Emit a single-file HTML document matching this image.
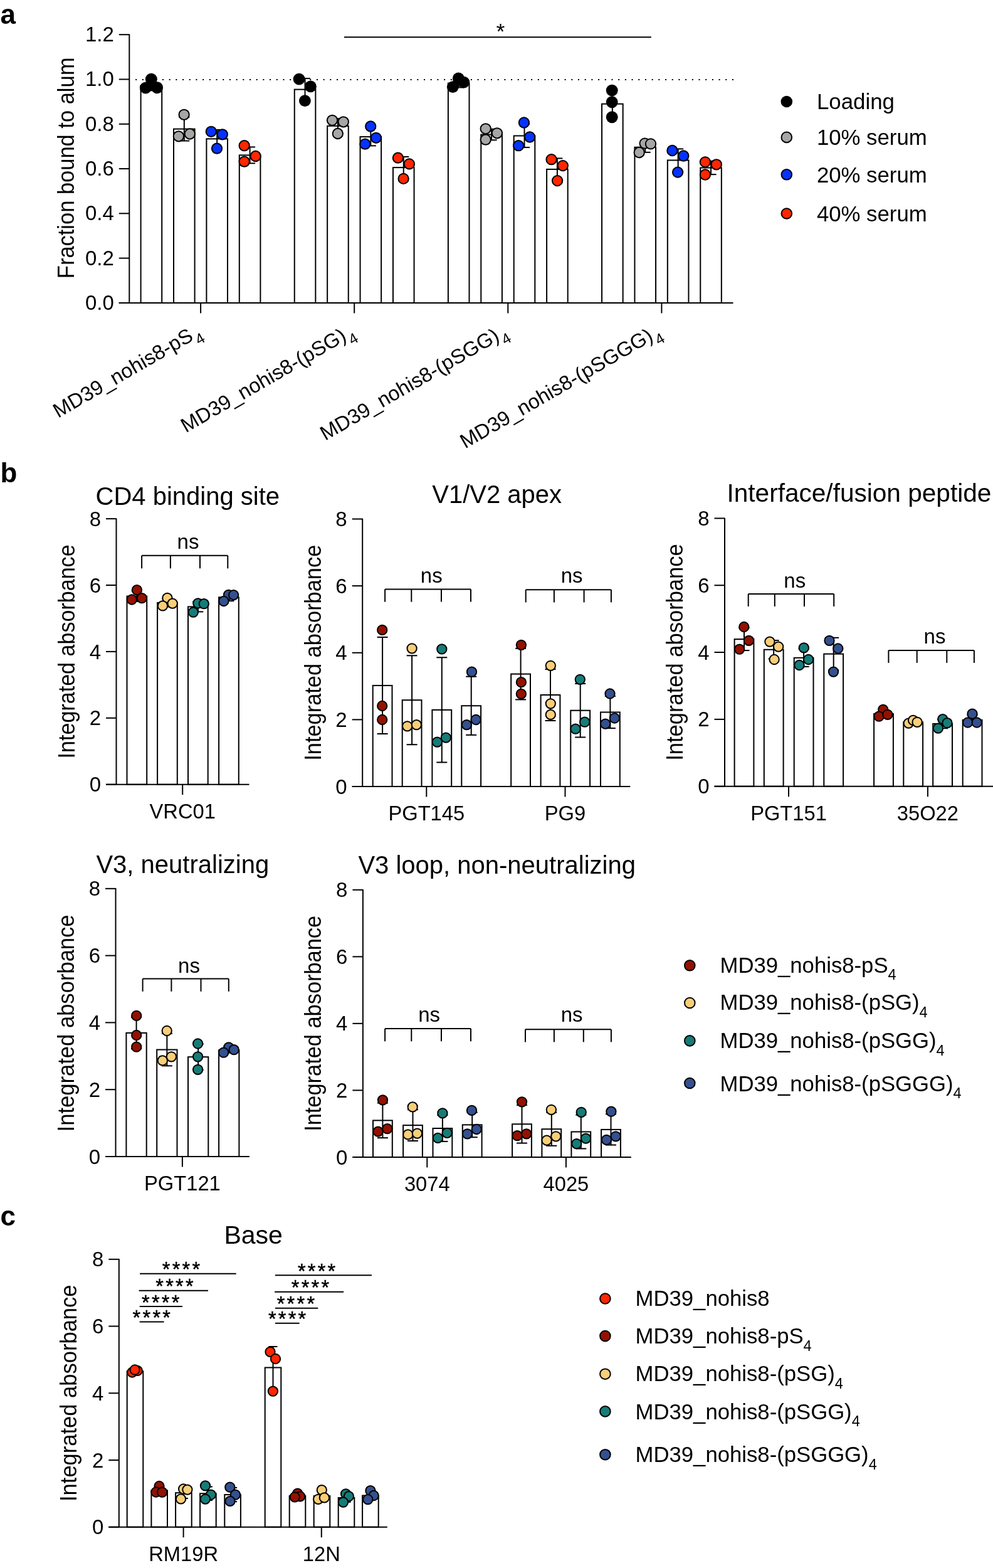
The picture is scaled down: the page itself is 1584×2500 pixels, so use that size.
<!DOCTYPE html>
<html><head><meta charset="utf-8"><title>Figure</title>
<style>
html,body{margin:0;padding:0;background:#fff;overflow:hidden;}
svg{display:block;}
text{font-family:"Liberation Sans", Arial, Helvetica, sans-serif;fill:#000;}
line,rect{stroke:#000;}
</style></head><body>
<svg width="1584" height="2500" viewBox="0 0 1584 2500">

<text x="0.5" y="38" font-size="44" font-weight="bold" >a</text>
<line x1="216.2" y1="126.9" x2="1170.3" y2="126.9" stroke-width="2" stroke-dasharray="2 8.694"/>
<line x1="549" y1="59.2" x2="1038.8" y2="59.2" stroke-width="2.0" />
<text x="791.5" y="62.2" font-size="35.5" >*</text>
<rect x="224.6" y="136.47" width="33.6" height="346.43" fill="#fff" stroke-width="2.0"/>
<line x1="241.4" y1="128.61" x2="241.4" y2="144.32" stroke-width="2.0" />
<line x1="232.9" y1="128.61" x2="249.9" y2="128.61" stroke-width="2.0" />
<line x1="232.9" y1="144.32" x2="249.9" y2="144.32" stroke-width="2.0" />
<rect x="277" y="205.63" width="33.6" height="277.27" fill="#fff" stroke-width="2.0"/>
<line x1="293.8" y1="186.72" x2="293.8" y2="224.55" stroke-width="2.0" />
<line x1="285.3" y1="186.72" x2="302.3" y2="186.72" stroke-width="2.0" />
<line x1="285.3" y1="224.55" x2="302.3" y2="224.55" stroke-width="2.0" />
<rect x="329.4" y="221.37" width="33.6" height="261.53" fill="#fff" stroke-width="2.0"/>
<line x1="346.2" y1="206.96" x2="346.2" y2="235.78" stroke-width="2.0" />
<line x1="337.7" y1="206.96" x2="354.7" y2="206.96" stroke-width="2.0" />
<line x1="337.7" y1="235.78" x2="354.7" y2="235.78" stroke-width="2.0" />
<rect x="381.8" y="247.4" width="33.6" height="235.5" fill="#fff" stroke-width="2.0"/>
<line x1="398.6" y1="234.44" x2="398.6" y2="260.36" stroke-width="2.0" />
<line x1="390.1" y1="234.44" x2="407.1" y2="234.44" stroke-width="2.0" />
<line x1="390.1" y1="260.36" x2="407.1" y2="260.36" stroke-width="2.0" />
<rect x="469.75" y="142.63" width="33.6" height="340.27" fill="#fff" stroke-width="2.0"/>
<line x1="486.55" y1="125.1" x2="486.55" y2="160.17" stroke-width="2.0" />
<line x1="478.05" y1="125.1" x2="495.05" y2="125.1" stroke-width="2.0" />
<line x1="478.05" y1="160.17" x2="495.05" y2="160.17" stroke-width="2.0" />
<rect x="522.15" y="200.8" width="33.6" height="282.1" fill="#fff" stroke-width="2.0"/>
<line x1="538.95" y1="189.21" x2="538.95" y2="212.39" stroke-width="2.0" />
<line x1="530.45" y1="189.21" x2="547.45" y2="189.21" stroke-width="2.0" />
<line x1="530.45" y1="212.39" x2="547.45" y2="212.39" stroke-width="2.0" />
<rect x="574.55" y="218.1" width="33.6" height="264.8" fill="#fff" stroke-width="2.0"/>
<line x1="591.35" y1="203.79" x2="591.35" y2="232.41" stroke-width="2.0" />
<line x1="582.85" y1="203.79" x2="599.85" y2="203.79" stroke-width="2.0" />
<line x1="582.85" y1="232.41" x2="599.85" y2="232.41" stroke-width="2.0" />
<rect x="626.95" y="267.1" width="33.6" height="215.8" fill="#fff" stroke-width="2.0"/>
<line x1="643.75" y1="250.03" x2="643.75" y2="284.17" stroke-width="2.0" />
<line x1="635.25" y1="250.03" x2="652.25" y2="250.03" stroke-width="2.0" />
<line x1="635.25" y1="284.17" x2="652.25" y2="284.17" stroke-width="2.0" />
<rect x="714.9" y="132.63" width="33.6" height="350.27" fill="#fff" stroke-width="2.0"/>
<line x1="731.7" y1="125.77" x2="731.7" y2="139.49" stroke-width="2.0" />
<line x1="723.2" y1="125.77" x2="740.2" y2="125.77" stroke-width="2.0" />
<line x1="723.2" y1="139.49" x2="740.2" y2="139.49" stroke-width="2.0" />
<rect x="767.3" y="214.53" width="33.6" height="268.37" fill="#fff" stroke-width="2.0"/>
<line x1="784.1" y1="205.78" x2="784.1" y2="223.29" stroke-width="2.0" />
<line x1="775.6" y1="205.78" x2="792.6" y2="205.78" stroke-width="2.0" />
<line x1="775.6" y1="223.29" x2="792.6" y2="223.29" stroke-width="2.0" />
<rect x="819.7" y="216.5" width="33.6" height="266.4" fill="#fff" stroke-width="2.0"/>
<line x1="836.5" y1="197.95" x2="836.5" y2="235.05" stroke-width="2.0" />
<line x1="828" y1="197.95" x2="845" y2="197.95" stroke-width="2.0" />
<line x1="828" y1="235.05" x2="845" y2="235.05" stroke-width="2.0" />
<rect x="872.1" y="269.9" width="33.6" height="213" fill="#fff" stroke-width="2.0"/>
<line x1="888.9" y1="252.47" x2="888.9" y2="287.33" stroke-width="2.0" />
<line x1="880.4" y1="252.47" x2="897.4" y2="252.47" stroke-width="2.0" />
<line x1="880.4" y1="287.33" x2="897.4" y2="287.33" stroke-width="2.0" />
<rect x="960.05" y="165.67" width="33.6" height="317.23" fill="#fff" stroke-width="2.0"/>
<line x1="976.85" y1="144.26" x2="976.85" y2="187.07" stroke-width="2.0" />
<line x1="968.35" y1="144.26" x2="985.35" y2="144.26" stroke-width="2.0" />
<line x1="968.35" y1="187.07" x2="985.35" y2="187.07" stroke-width="2.0" />
<rect x="1012.45" y="234.77" width="33.6" height="248.13" fill="#fff" stroke-width="2.0"/>
<line x1="1029.25" y1="226.67" x2="1029.25" y2="242.86" stroke-width="2.0" />
<line x1="1020.75" y1="226.67" x2="1037.75" y2="226.67" stroke-width="2.0" />
<line x1="1020.75" y1="242.86" x2="1037.75" y2="242.86" stroke-width="2.0" />
<rect x="1064.85" y="255.47" width="33.6" height="227.43" fill="#fff" stroke-width="2.0"/>
<line x1="1081.65" y1="237.44" x2="1081.65" y2="273.5" stroke-width="2.0" />
<line x1="1073.15" y1="237.44" x2="1090.15" y2="237.44" stroke-width="2.0" />
<line x1="1073.15" y1="273.5" x2="1090.15" y2="273.5" stroke-width="2.0" />
<rect x="1117.25" y="267.5" width="33.6" height="215.4" fill="#fff" stroke-width="2.0"/>
<line x1="1134.05" y1="256.84" x2="1134.05" y2="278.16" stroke-width="2.0" />
<line x1="1125.55" y1="256.84" x2="1142.55" y2="256.84" stroke-width="2.0" />
<line x1="1125.55" y1="278.16" x2="1142.55" y2="278.16" stroke-width="2.0" />
<circle cx="241.3" cy="126.3" r="9.45" fill="#000"/>
<circle cx="232.3" cy="140.1" r="9.45" fill="#000"/>
<circle cx="250.6" cy="139.7" r="9.45" fill="#000"/>
<circle cx="293.6" cy="182.8" r="8.15" fill="#A6A6A6" stroke="#000" stroke-width="2.0"/>
<circle cx="284.9" cy="217.3" r="8.15" fill="#A6A6A6" stroke="#000" stroke-width="2.0"/>
<circle cx="302.8" cy="213.5" r="8.15" fill="#A6A6A6" stroke="#000" stroke-width="2.0"/>
<circle cx="336.8" cy="209.8" r="8.15" fill="#0433FF" stroke="#000" stroke-width="2.0"/>
<circle cx="354.8" cy="214.3" r="8.15" fill="#0433FF" stroke="#000" stroke-width="2.0"/>
<circle cx="346" cy="236.7" r="8.15" fill="#0433FF" stroke="#000" stroke-width="2.0"/>
<circle cx="389.7" cy="232.2" r="8.15" fill="#FF2600" stroke="#000" stroke-width="2.0"/>
<circle cx="407.7" cy="249" r="8.15" fill="#FF2600" stroke="#000" stroke-width="2.0"/>
<circle cx="389.7" cy="257.7" r="8.15" fill="#FF2600" stroke="#000" stroke-width="2.0"/>
<circle cx="477.1" cy="126.1" r="9.45" fill="#000"/>
<circle cx="495.4" cy="137.9" r="9.45" fill="#000"/>
<circle cx="486.4" cy="160.6" r="9.45" fill="#000"/>
<circle cx="530" cy="191.8" r="8.15" fill="#A6A6A6" stroke="#000" stroke-width="2.0"/>
<circle cx="547.8" cy="194.3" r="8.15" fill="#A6A6A6" stroke="#000" stroke-width="2.0"/>
<circle cx="538.8" cy="213" r="8.15" fill="#A6A6A6" stroke="#000" stroke-width="2.0"/>
<circle cx="591.2" cy="201.5" r="8.15" fill="#0433FF" stroke="#000" stroke-width="2.0"/>
<circle cx="599.9" cy="219.8" r="8.15" fill="#0433FF" stroke="#000" stroke-width="2.0"/>
<circle cx="582.4" cy="229.7" r="8.15" fill="#0433FF" stroke="#000" stroke-width="2.0"/>
<circle cx="634.9" cy="251.7" r="8.15" fill="#FF2600" stroke="#000" stroke-width="2.0"/>
<circle cx="652.9" cy="261.4" r="8.15" fill="#FF2600" stroke="#000" stroke-width="2.0"/>
<circle cx="643.6" cy="284.9" r="8.15" fill="#FF2600" stroke="#000" stroke-width="2.0"/>
<circle cx="731.3" cy="124.9" r="9.45" fill="#000"/>
<circle cx="739.8" cy="131.1" r="9.45" fill="#000"/>
<circle cx="722.3" cy="138.6" r="9.45" fill="#000"/>
<circle cx="774.7" cy="205.3" r="8.15" fill="#A6A6A6" stroke="#000" stroke-width="2.0"/>
<circle cx="792.9" cy="212.3" r="8.15" fill="#A6A6A6" stroke="#000" stroke-width="2.0"/>
<circle cx="774.7" cy="222.7" r="8.15" fill="#A6A6A6" stroke="#000" stroke-width="2.0"/>
<circle cx="835.9" cy="195.5" r="8.15" fill="#0433FF" stroke="#000" stroke-width="2.0"/>
<circle cx="845.1" cy="218.5" r="8.15" fill="#0433FF" stroke="#000" stroke-width="2.0"/>
<circle cx="827.1" cy="232.2" r="8.15" fill="#0433FF" stroke="#000" stroke-width="2.0"/>
<circle cx="879.6" cy="254.2" r="8.15" fill="#FF2600" stroke="#000" stroke-width="2.0"/>
<circle cx="897.8" cy="264.1" r="8.15" fill="#FF2600" stroke="#000" stroke-width="2.0"/>
<circle cx="889.1" cy="288.1" r="8.15" fill="#FF2600" stroke="#000" stroke-width="2.0"/>
<circle cx="976.2" cy="144.1" r="9.45" fill="#000"/>
<circle cx="976.2" cy="162.8" r="9.45" fill="#000"/>
<circle cx="976.2" cy="186.8" r="9.45" fill="#000"/>
<circle cx="1028.6" cy="228.6" r="8.15" fill="#A6A6A6" stroke="#000" stroke-width="2.0"/>
<circle cx="1038" cy="229.4" r="8.15" fill="#A6A6A6" stroke="#000" stroke-width="2.0"/>
<circle cx="1019.7" cy="243" r="8.15" fill="#A6A6A6" stroke="#000" stroke-width="2.0"/>
<circle cx="1072.4" cy="240" r="8.15" fill="#0433FF" stroke="#000" stroke-width="2.0"/>
<circle cx="1090.3" cy="248.5" r="8.15" fill="#0433FF" stroke="#000" stroke-width="2.0"/>
<circle cx="1081.1" cy="274.6" r="8.15" fill="#0433FF" stroke="#000" stroke-width="2.0"/>
<circle cx="1124.9" cy="258.4" r="8.15" fill="#FF2600" stroke="#000" stroke-width="2.0"/>
<circle cx="1142.8" cy="262.3" r="8.15" fill="#FF2600" stroke="#000" stroke-width="2.0"/>
<circle cx="1124.9" cy="278.5" r="8.15" fill="#FF2600" stroke="#000" stroke-width="2.0"/>
<line x1="206.3" y1="54.5" x2="206.3" y2="482.9" stroke-width="2.0" />
<line x1="189.8" y1="482.9" x2="206.3" y2="482.9" stroke-width="2.0" />
<text x="181.9" y="493.9" font-size="33" text-anchor="end" >0.0</text>
<line x1="189.8" y1="411.62" x2="206.3" y2="411.62" stroke-width="2.0" />
<text x="181.9" y="422.62" font-size="33" text-anchor="end" >0.2</text>
<line x1="189.8" y1="340.33" x2="206.3" y2="340.33" stroke-width="2.0" />
<text x="181.9" y="351.33" font-size="33" text-anchor="end" >0.4</text>
<line x1="189.8" y1="269.05" x2="206.3" y2="269.05" stroke-width="2.0" />
<text x="181.9" y="280.05" font-size="33" text-anchor="end" >0.6</text>
<line x1="189.8" y1="197.77" x2="206.3" y2="197.77" stroke-width="2.0" />
<text x="181.9" y="208.77" font-size="33" text-anchor="end" >0.8</text>
<line x1="189.8" y1="126.48" x2="206.3" y2="126.48" stroke-width="2.0" />
<text x="181.9" y="137.48" font-size="33" text-anchor="end" >1.0</text>
<line x1="189.8" y1="55.2" x2="206.3" y2="55.2" stroke-width="2.0" />
<text x="181.9" y="66.2" font-size="33" text-anchor="end" >1.2</text>
<line x1="189.6" y1="482.9" x2="1169.5" y2="482.9" stroke-width="2.0" />
<line x1="320.1" y1="482.9" x2="320.1" y2="499.4" stroke-width="2.0" />
<line x1="565.2" y1="482.9" x2="565.2" y2="499.4" stroke-width="2.0" />
<line x1="810.3" y1="482.9" x2="810.3" y2="499.4" stroke-width="2.0" />
<line x1="1055.4" y1="482.9" x2="1055.4" y2="499.4" stroke-width="2.0" />
<text x="117.9" y="267.9" font-size="36.5" text-anchor="middle" textLength="352.5" lengthAdjust="spacingAndGlyphs" transform="rotate(-90 117.9 267.9)" >Fraction bound to alum</text>
<text x="92.7" y="666.9" font-size="32.5" transform="rotate(-30 92.7 666.9)">MD39_nohis8-pS<tspan font-size="24" dx="1.5" dy="11.5">4</tspan></text>
<text x="296.5" y="690.4" font-size="32.5" transform="rotate(-30 296.5 690.4)">MD39_nohis8-(pSG)<tspan font-size="24" dx="1.5" dy="11.5">4</tspan></text>
<text x="518.7" y="703" font-size="32.5" transform="rotate(-30 518.7 703)">MD39_nohis8-(pSGG)<tspan font-size="24" dx="1.5" dy="11.5">4</tspan></text>
<text x="741.9" y="715.8" font-size="32.5" transform="rotate(-30 741.9 715.8)">MD39_nohis8-(pSGGG)<tspan font-size="24" dx="1.5" dy="11.5">4</tspan></text>
<circle cx="1254.8" cy="162" r="9.3" fill="#000"/>
<text x="1302.9" y="173.7" font-size="35.5" textLength="124" lengthAdjust="spacingAndGlyphs" >Loading</text>
<circle cx="1254.8" cy="218.9" r="8.3" fill="#A6A6A6" stroke="#000" stroke-width="2.0"/>
<text x="1302.9" y="230.6" font-size="35.5" textLength="175.8" lengthAdjust="spacingAndGlyphs" >10% serum</text>
<circle cx="1254.8" cy="278.3" r="8.3" fill="#0433FF" stroke="#000" stroke-width="2.0"/>
<text x="1302.9" y="290.5" font-size="35.5" textLength="175.8" lengthAdjust="spacingAndGlyphs" >20% serum</text>
<circle cx="1254.8" cy="340.5" r="8.3" fill="#FF2600" stroke="#000" stroke-width="2.0"/>
<text x="1302.9" y="352.7" font-size="35.5" textLength="175.8" lengthAdjust="spacingAndGlyphs" >40% serum</text>
<text x="0.5" y="769" font-size="44" font-weight="bold" >b</text>
<rect x="202.5" y="950.6" width="31.7" height="300.1" fill="#fff" stroke-width="2.0"/>
<line x1="218.35" y1="942.29" x2="218.35" y2="958.91" stroke-width="2.0" />
<line x1="209.85" y1="942.29" x2="226.85" y2="942.29" stroke-width="2.0" />
<line x1="209.85" y1="958.91" x2="226.85" y2="958.91" stroke-width="2.0" />
<rect x="251.1" y="960.97" width="31.7" height="289.73" fill="#fff" stroke-width="2.0"/>
<line x1="266.95" y1="954.56" x2="266.95" y2="967.37" stroke-width="2.0" />
<line x1="258.45" y1="954.56" x2="275.45" y2="954.56" stroke-width="2.0" />
<line x1="258.45" y1="967.37" x2="275.45" y2="967.37" stroke-width="2.0" />
<rect x="300" y="967.37" width="31.7" height="283.33" fill="#fff" stroke-width="2.0"/>
<line x1="315.85" y1="959.36" x2="315.85" y2="975.38" stroke-width="2.0" />
<line x1="307.35" y1="959.36" x2="324.35" y2="959.36" stroke-width="2.0" />
<line x1="307.35" y1="975.38" x2="324.35" y2="975.38" stroke-width="2.0" />
<rect x="349.1" y="952.3" width="31.7" height="298.4" fill="#fff" stroke-width="2.0"/>
<line x1="364.95" y1="946.5" x2="364.95" y2="958.1" stroke-width="2.0" />
<line x1="356.45" y1="946.5" x2="373.45" y2="946.5" stroke-width="2.0" />
<line x1="356.45" y1="958.1" x2="373.45" y2="958.1" stroke-width="2.0" />
<circle cx="218.4" cy="940.6" r="7.65" fill="#941100" stroke="#000" stroke-width="2.0"/>
<circle cx="210.3" cy="956" r="7.65" fill="#941100" stroke="#000" stroke-width="2.0"/>
<circle cx="226.3" cy="953.7" r="7.65" fill="#941100" stroke="#000" stroke-width="2.0"/>
<circle cx="266.9" cy="953.4" r="7.65" fill="#F9CE78" stroke="#000" stroke-width="2.0"/>
<circle cx="259.5" cy="965.9" r="7.65" fill="#F9CE78" stroke="#000" stroke-width="2.0"/>
<circle cx="275.2" cy="962.1" r="7.65" fill="#F9CE78" stroke="#000" stroke-width="2.0"/>
<circle cx="315.8" cy="961.8" r="7.65" fill="#167C78" stroke="#000" stroke-width="2.0"/>
<circle cx="325.3" cy="962.7" r="7.65" fill="#167C78" stroke="#000" stroke-width="2.0"/>
<circle cx="308.3" cy="976.1" r="7.65" fill="#167C78" stroke="#000" stroke-width="2.0"/>
<circle cx="364.6" cy="948.3" r="7.65" fill="#34508F" stroke="#000" stroke-width="2.0"/>
<circle cx="372.6" cy="948.6" r="7.65" fill="#34508F" stroke="#000" stroke-width="2.0"/>
<circle cx="356.9" cy="958.5" r="7.65" fill="#34508F" stroke="#000" stroke-width="2.0"/>
<line x1="185.5" y1="826.4" x2="185.5" y2="1250.7" stroke-width="2.0" />
<line x1="169" y1="1250.7" x2="185.5" y2="1250.7" stroke-width="2.0" />
<text x="161" y="1262.3" font-size="33" text-anchor="end" >0</text>
<line x1="169" y1="1144.8" x2="185.5" y2="1144.8" stroke-width="2.0" />
<text x="161" y="1156.4" font-size="33" text-anchor="end" >2</text>
<line x1="169" y1="1038.9" x2="185.5" y2="1038.9" stroke-width="2.0" />
<text x="161" y="1050.5" font-size="33" text-anchor="end" >4</text>
<line x1="169" y1="933" x2="185.5" y2="933" stroke-width="2.0" />
<text x="161" y="944.6" font-size="33" text-anchor="end" >6</text>
<line x1="169" y1="827.1" x2="185.5" y2="827.1" stroke-width="2.0" />
<text x="161" y="838.7" font-size="33" text-anchor="end" >8</text>
<line x1="169" y1="1250.7" x2="397.5" y2="1250.7" stroke-width="2.0" />
<line x1="291.2" y1="1250.7" x2="291.2" y2="1267.2" stroke-width="2.0" />
<text x="291.2" y="1304.7" font-size="32.7" text-anchor="middle" >VRC01</text>
<text x="299.3" y="805" font-size="40" text-anchor="middle" >CD4 binding site</text>
<text x="119" y="1038.9" font-size="36" text-anchor="middle" textLength="341" lengthAdjust="spacingAndGlyphs" transform="rotate(-90 119 1038.9)" >Integrated absorbance</text>
<line x1="226.1" y1="885.8" x2="363.3" y2="885.8" stroke-width="2.0" />
<line x1="226.1" y1="885.8" x2="226.1" y2="906.3" stroke-width="2.0" />
<line x1="363.3" y1="885.8" x2="363.3" y2="906.3" stroke-width="2.0" />
<line x1="271.9" y1="885.8" x2="271.9" y2="906.3" stroke-width="2.0" />
<line x1="319" y1="885.8" x2="319" y2="906.3" stroke-width="2.0" />
<text x="300" y="875.3" font-size="33" text-anchor="middle" >ns</text>
<rect x="594.7" y="1092.97" width="30.8" height="161.03" fill="#fff" stroke-width="2.0"/>
<line x1="610.1" y1="1015.91" x2="610.1" y2="1170.02" stroke-width="2.0" />
<line x1="601.6" y1="1015.91" x2="618.6" y2="1015.91" stroke-width="2.0" />
<line x1="601.6" y1="1170.02" x2="618.6" y2="1170.02" stroke-width="2.0" />
<rect x="641.7" y="1116.23" width="30.8" height="137.77" fill="#fff" stroke-width="2.0"/>
<line x1="657.1" y1="1045.27" x2="657.1" y2="1187.2" stroke-width="2.0" />
<line x1="648.6" y1="1045.27" x2="665.6" y2="1045.27" stroke-width="2.0" />
<line x1="648.6" y1="1187.2" x2="665.6" y2="1187.2" stroke-width="2.0" />
<rect x="689.4" y="1131.87" width="30.8" height="122.13" fill="#fff" stroke-width="2.0"/>
<line x1="704.8" y1="1048.25" x2="704.8" y2="1215.48" stroke-width="2.0" />
<line x1="696.3" y1="1048.25" x2="713.3" y2="1048.25" stroke-width="2.0" />
<line x1="696.3" y1="1215.48" x2="713.3" y2="1215.48" stroke-width="2.0" />
<rect x="736.3" y="1125.27" width="30.8" height="128.73" fill="#fff" stroke-width="2.0"/>
<line x1="751.7" y1="1078.7" x2="751.7" y2="1171.83" stroke-width="2.0" />
<line x1="743.2" y1="1078.7" x2="760.2" y2="1078.7" stroke-width="2.0" />
<line x1="743.2" y1="1171.83" x2="760.2" y2="1171.83" stroke-width="2.0" />
<rect x="815.2" y="1074.63" width="30.8" height="179.37" fill="#fff" stroke-width="2.0"/>
<line x1="830.6" y1="1033.85" x2="830.6" y2="1115.41" stroke-width="2.0" />
<line x1="822.1" y1="1033.85" x2="839.1" y2="1033.85" stroke-width="2.0" />
<line x1="822.1" y1="1115.41" x2="839.1" y2="1115.41" stroke-width="2.0" />
<rect x="862.6" y="1108" width="30.8" height="146" fill="#fff" stroke-width="2.0"/>
<line x1="878" y1="1067.03" x2="878" y2="1148.97" stroke-width="2.0" />
<line x1="869.5" y1="1067.03" x2="886.5" y2="1067.03" stroke-width="2.0" />
<line x1="869.5" y1="1148.97" x2="886.5" y2="1148.97" stroke-width="2.0" />
<rect x="910.3" y="1132.73" width="30.8" height="121.27" fill="#fff" stroke-width="2.0"/>
<line x1="925.7" y1="1090" x2="925.7" y2="1175.47" stroke-width="2.0" />
<line x1="917.2" y1="1090" x2="934.2" y2="1090" stroke-width="2.0" />
<line x1="917.2" y1="1175.47" x2="934.2" y2="1175.47" stroke-width="2.0" />
<rect x="958" y="1135.53" width="30.8" height="118.47" fill="#fff" stroke-width="2.0"/>
<line x1="973.4" y1="1109.98" x2="973.4" y2="1161.09" stroke-width="2.0" />
<line x1="964.9" y1="1109.98" x2="981.9" y2="1109.98" stroke-width="2.0" />
<line x1="964.9" y1="1161.09" x2="981.9" y2="1161.09" stroke-width="2.0" />
<circle cx="609.7" cy="1004.4" r="7.65" fill="#941100" stroke="#000" stroke-width="2.0"/>
<circle cx="609.7" cy="1125.5" r="7.65" fill="#941100" stroke="#000" stroke-width="2.0"/>
<circle cx="609.7" cy="1147.5" r="7.65" fill="#941100" stroke="#000" stroke-width="2.0"/>
<circle cx="657.1" cy="1033.8" r="7.65" fill="#F9CE78" stroke="#000" stroke-width="2.0"/>
<circle cx="649.7" cy="1157.8" r="7.65" fill="#F9CE78" stroke="#000" stroke-width="2.0"/>
<circle cx="664.4" cy="1155.6" r="7.65" fill="#F9CE78" stroke="#000" stroke-width="2.0"/>
<circle cx="704.8" cy="1034.9" r="7.65" fill="#167C78" stroke="#000" stroke-width="2.0"/>
<circle cx="697.4" cy="1183.1" r="7.65" fill="#167C78" stroke="#000" stroke-width="2.0"/>
<circle cx="711.4" cy="1176.1" r="7.65" fill="#167C78" stroke="#000" stroke-width="2.0"/>
<circle cx="752.5" cy="1071.2" r="7.65" fill="#34508F" stroke="#000" stroke-width="2.0"/>
<circle cx="744.4" cy="1155.6" r="7.65" fill="#34508F" stroke="#000" stroke-width="2.0"/>
<circle cx="759.1" cy="1147.5" r="7.65" fill="#34508F" stroke="#000" stroke-width="2.0"/>
<circle cx="831.4" cy="1028.3" r="7.65" fill="#941100" stroke="#000" stroke-width="2.0"/>
<circle cx="831.4" cy="1087.7" r="7.65" fill="#941100" stroke="#000" stroke-width="2.0"/>
<circle cx="831.4" cy="1106.4" r="7.65" fill="#941100" stroke="#000" stroke-width="2.0"/>
<circle cx="878.3" cy="1061.3" r="7.65" fill="#F9CE78" stroke="#000" stroke-width="2.0"/>
<circle cx="878.3" cy="1121.8" r="7.65" fill="#F9CE78" stroke="#000" stroke-width="2.0"/>
<circle cx="878.3" cy="1139.4" r="7.65" fill="#F9CE78" stroke="#000" stroke-width="2.0"/>
<circle cx="925.3" cy="1083.3" r="7.65" fill="#167C78" stroke="#000" stroke-width="2.0"/>
<circle cx="918" cy="1162.2" r="7.65" fill="#167C78" stroke="#000" stroke-width="2.0"/>
<circle cx="932.7" cy="1151.2" r="7.65" fill="#167C78" stroke="#000" stroke-width="2.0"/>
<circle cx="973" cy="1106" r="7.65" fill="#34508F" stroke="#000" stroke-width="2.0"/>
<circle cx="965.7" cy="1154.1" r="7.65" fill="#34508F" stroke="#000" stroke-width="2.0"/>
<circle cx="980.4" cy="1145" r="7.65" fill="#34508F" stroke="#000" stroke-width="2.0"/>
<line x1="578.2" y1="826.8" x2="578.2" y2="1254" stroke-width="2.0" />
<line x1="561.7" y1="1254" x2="578.2" y2="1254" stroke-width="2.0" />
<text x="553.7" y="1265.6" font-size="33" text-anchor="end" >0</text>
<line x1="561.7" y1="1147.38" x2="578.2" y2="1147.38" stroke-width="2.0" />
<text x="553.7" y="1158.97" font-size="33" text-anchor="end" >2</text>
<line x1="561.7" y1="1040.75" x2="578.2" y2="1040.75" stroke-width="2.0" />
<text x="553.7" y="1052.35" font-size="33" text-anchor="end" >4</text>
<line x1="561.7" y1="934.12" x2="578.2" y2="934.12" stroke-width="2.0" />
<text x="553.7" y="945.73" font-size="33" text-anchor="end" >6</text>
<line x1="561.7" y1="827.5" x2="578.2" y2="827.5" stroke-width="2.0" />
<text x="553.7" y="839.1" font-size="33" text-anchor="end" >8</text>
<line x1="561.7" y1="1254" x2="1005.3" y2="1254" stroke-width="2.0" />
<line x1="680.3" y1="1254" x2="680.3" y2="1270.5" stroke-width="2.0" />
<text x="680.3" y="1308" font-size="32.7" text-anchor="middle" >PGT145</text>
<line x1="901.5" y1="1254" x2="901.5" y2="1270.5" stroke-width="2.0" />
<text x="901.5" y="1308" font-size="32.7" text-anchor="middle" >PG9</text>
<text x="792.7" y="801.5" font-size="40" text-anchor="middle" >V1/V2 apex</text>
<text x="511.5" y="1040.75" font-size="36" text-anchor="middle" textLength="344" lengthAdjust="spacingAndGlyphs" transform="rotate(-90 511.5 1040.75)" >Integrated absorbance</text>
<line x1="614.1" y1="939.4" x2="751" y2="939.4" stroke-width="2.0" />
<line x1="614.1" y1="939.4" x2="614.1" y2="959.6" stroke-width="2.0" />
<line x1="751" y1="939.4" x2="751" y2="959.6" stroke-width="2.0" />
<line x1="656.3" y1="939.4" x2="656.3" y2="959.6" stroke-width="2.0" />
<line x1="704" y1="939.4" x2="704" y2="959.6" stroke-width="2.0" />
<text x="688.3" y="929.2" font-size="33" text-anchor="middle" >ns</text>
<line x1="838.7" y1="940.2" x2="974.9" y2="940.2" stroke-width="2.0" />
<line x1="838.7" y1="940.2" x2="838.7" y2="960.4" stroke-width="2.0" />
<line x1="974.9" y1="940.2" x2="974.9" y2="960.4" stroke-width="2.0" />
<line x1="883.9" y1="940.2" x2="883.9" y2="960.4" stroke-width="2.0" />
<line x1="931.6" y1="940.2" x2="931.6" y2="960.4" stroke-width="2.0" />
<text x="912.1" y="929.2" font-size="33" text-anchor="middle" >ns</text>
<rect x="1171.6" y="1019.13" width="30.8" height="234.57" fill="#fff" stroke-width="2.0"/>
<line x1="1187" y1="1001.18" x2="1187" y2="1037.08" stroke-width="2.0" />
<line x1="1178.5" y1="1001.18" x2="1195.5" y2="1001.18" stroke-width="2.0" />
<line x1="1178.5" y1="1037.08" x2="1195.5" y2="1037.08" stroke-width="2.0" />
<rect x="1218.8" y="1035.73" width="30.8" height="217.97" fill="#fff" stroke-width="2.0"/>
<line x1="1234.2" y1="1021.09" x2="1234.2" y2="1050.38" stroke-width="2.0" />
<line x1="1225.7" y1="1021.09" x2="1242.7" y2="1021.09" stroke-width="2.0" />
<line x1="1225.7" y1="1050.38" x2="1242.7" y2="1050.38" stroke-width="2.0" />
<rect x="1266.7" y="1048.8" width="30.8" height="204.9" fill="#fff" stroke-width="2.0"/>
<line x1="1282.1" y1="1034.72" x2="1282.1" y2="1062.88" stroke-width="2.0" />
<line x1="1273.6" y1="1034.72" x2="1290.6" y2="1034.72" stroke-width="2.0" />
<line x1="1273.6" y1="1062.88" x2="1290.6" y2="1062.88" stroke-width="2.0" />
<rect x="1314.3" y="1042.63" width="30.8" height="211.07" fill="#fff" stroke-width="2.0"/>
<line x1="1329.7" y1="1016.76" x2="1329.7" y2="1068.51" stroke-width="2.0" />
<line x1="1321.2" y1="1016.76" x2="1338.2" y2="1016.76" stroke-width="2.0" />
<line x1="1321.2" y1="1068.51" x2="1338.2" y2="1068.51" stroke-width="2.0" />
<rect x="1394.1" y="1138.1" width="30.8" height="115.6" fill="#fff" stroke-width="2.0"/>
<line x1="1409.5" y1="1132.45" x2="1409.5" y2="1143.75" stroke-width="2.0" />
<line x1="1401" y1="1132.45" x2="1418" y2="1132.45" stroke-width="2.0" />
<line x1="1401" y1="1143.75" x2="1418" y2="1143.75" stroke-width="2.0" />
<rect x="1441.3" y="1151.43" width="30.8" height="102.27" fill="#fff" stroke-width="2.0"/>
<line x1="1456.7" y1="1149.06" x2="1456.7" y2="1153.8" stroke-width="2.0" />
<line x1="1448.2" y1="1149.06" x2="1465.2" y2="1149.06" stroke-width="2.0" />
<line x1="1448.2" y1="1153.8" x2="1465.2" y2="1153.8" stroke-width="2.0" />
<rect x="1488.2" y="1153.97" width="30.8" height="99.73" fill="#fff" stroke-width="2.0"/>
<line x1="1503.6" y1="1146.69" x2="1503.6" y2="1161.25" stroke-width="2.0" />
<line x1="1495.1" y1="1146.69" x2="1512.1" y2="1146.69" stroke-width="2.0" />
<line x1="1495.1" y1="1161.25" x2="1512.1" y2="1161.25" stroke-width="2.0" />
<rect x="1535.7" y="1147.9" width="30.8" height="105.8" fill="#fff" stroke-width="2.0"/>
<line x1="1551.1" y1="1139.93" x2="1551.1" y2="1155.87" stroke-width="2.0" />
<line x1="1542.6" y1="1139.93" x2="1559.6" y2="1139.93" stroke-width="2.0" />
<line x1="1542.6" y1="1155.87" x2="1559.6" y2="1155.87" stroke-width="2.0" />
<circle cx="1186.8" cy="999.5" r="7.65" fill="#941100" stroke="#000" stroke-width="2.0"/>
<circle cx="1194.5" cy="1021.3" r="7.65" fill="#941100" stroke="#000" stroke-width="2.0"/>
<circle cx="1179.6" cy="1035.1" r="7.65" fill="#941100" stroke="#000" stroke-width="2.0"/>
<circle cx="1227.9" cy="1023.1" r="7.65" fill="#F9CE78" stroke="#000" stroke-width="2.0"/>
<circle cx="1241.7" cy="1031.1" r="7.65" fill="#F9CE78" stroke="#000" stroke-width="2.0"/>
<circle cx="1235.1" cy="1051.5" r="7.65" fill="#F9CE78" stroke="#000" stroke-width="2.0"/>
<circle cx="1282.3" cy="1032.9" r="7.65" fill="#167C78" stroke="#000" stroke-width="2.0"/>
<circle cx="1289.6" cy="1051.5" r="7.65" fill="#167C78" stroke="#000" stroke-width="2.0"/>
<circle cx="1275.1" cy="1060.5" r="7.65" fill="#167C78" stroke="#000" stroke-width="2.0"/>
<circle cx="1323" cy="1021.3" r="7.65" fill="#34508F" stroke="#000" stroke-width="2.0"/>
<circle cx="1336.8" cy="1034" r="7.65" fill="#34508F" stroke="#000" stroke-width="2.0"/>
<circle cx="1329.5" cy="1071.1" r="7.65" fill="#34508F" stroke="#000" stroke-width="2.0"/>
<circle cx="1408.7" cy="1131.3" r="7.65" fill="#941100" stroke="#000" stroke-width="2.0"/>
<circle cx="1402.1" cy="1142.2" r="7.65" fill="#941100" stroke="#000" stroke-width="2.0"/>
<circle cx="1415.9" cy="1139.3" r="7.65" fill="#941100" stroke="#000" stroke-width="2.0"/>
<circle cx="1449.3" cy="1153.1" r="7.65" fill="#F9CE78" stroke="#000" stroke-width="2.0"/>
<circle cx="1456.6" cy="1148.4" r="7.65" fill="#F9CE78" stroke="#000" stroke-width="2.0"/>
<circle cx="1463.1" cy="1151.3" r="7.65" fill="#F9CE78" stroke="#000" stroke-width="2.0"/>
<circle cx="1503.8" cy="1146.6" r="7.65" fill="#167C78" stroke="#000" stroke-width="2.0"/>
<circle cx="1496.5" cy="1161.1" r="7.65" fill="#167C78" stroke="#000" stroke-width="2.0"/>
<circle cx="1511" cy="1152.7" r="7.65" fill="#167C78" stroke="#000" stroke-width="2.0"/>
<circle cx="1551" cy="1138.2" r="7.65" fill="#34508F" stroke="#000" stroke-width="2.0"/>
<circle cx="1543.7" cy="1152" r="7.65" fill="#34508F" stroke="#000" stroke-width="2.0"/>
<circle cx="1558.2" cy="1152" r="7.65" fill="#34508F" stroke="#000" stroke-width="2.0"/>
<line x1="1156" y1="825.7" x2="1156" y2="1253.7" stroke-width="2.0" />
<line x1="1139.5" y1="1253.7" x2="1156" y2="1253.7" stroke-width="2.0" />
<text x="1131.5" y="1265.3" font-size="33" text-anchor="end" >0</text>
<line x1="1139.5" y1="1146.88" x2="1156" y2="1146.88" stroke-width="2.0" />
<text x="1131.5" y="1158.47" font-size="33" text-anchor="end" >2</text>
<line x1="1139.5" y1="1040.05" x2="1156" y2="1040.05" stroke-width="2.0" />
<text x="1131.5" y="1051.65" font-size="33" text-anchor="end" >4</text>
<line x1="1139.5" y1="933.23" x2="1156" y2="933.23" stroke-width="2.0" />
<text x="1131.5" y="944.83" font-size="33" text-anchor="end" >6</text>
<line x1="1139.5" y1="826.4" x2="1156" y2="826.4" stroke-width="2.0" />
<text x="1131.5" y="838" font-size="33" text-anchor="end" >8</text>
<line x1="1139.5" y1="1253.7" x2="1584" y2="1253.7" stroke-width="2.0" />
<line x1="1258" y1="1253.7" x2="1258" y2="1270.2" stroke-width="2.0" />
<text x="1258" y="1307.7" font-size="32.7" text-anchor="middle" >PGT151</text>
<line x1="1479.9" y1="1253.7" x2="1479.9" y2="1270.2" stroke-width="2.0" />
<text x="1479.9" y="1307.7" font-size="32.7" text-anchor="middle" >35O22</text>
<text x="1370.4" y="799.9" font-size="40.6" text-anchor="middle" >Interface/fusion peptide</text>
<text x="1088.8" y="1040.05" font-size="36" text-anchor="middle" textLength="345.5" lengthAdjust="spacingAndGlyphs" transform="rotate(-90 1088.8 1040.05)" >Integrated absorbance</text>
<line x1="1193.7" y1="946.9" x2="1330.2" y2="946.9" stroke-width="2.0" />
<line x1="1193.7" y1="946.9" x2="1193.7" y2="966.9" stroke-width="2.0" />
<line x1="1330.2" y1="946.9" x2="1330.2" y2="966.9" stroke-width="2.0" />
<line x1="1235.8" y1="946.9" x2="1235.8" y2="966.9" stroke-width="2.0" />
<line x1="1283" y1="946.9" x2="1283" y2="966.9" stroke-width="2.0" />
<text x="1267.8" y="936.7" font-size="33" text-anchor="middle" >ns</text>
<line x1="1417.4" y1="1036.9" x2="1553.9" y2="1036.9" stroke-width="2.0" />
<line x1="1417.4" y1="1036.9" x2="1417.4" y2="1056.9" stroke-width="2.0" />
<line x1="1553.9" y1="1036.9" x2="1553.9" y2="1056.9" stroke-width="2.0" />
<line x1="1462.7" y1="1036.9" x2="1462.7" y2="1056.9" stroke-width="2.0" />
<line x1="1510.3" y1="1036.9" x2="1510.3" y2="1056.9" stroke-width="2.0" />
<text x="1491" y="1026" font-size="33" text-anchor="middle" >ns</text>
<rect x="201.4" y="1646.87" width="32.3" height="197.13" fill="#fff" stroke-width="2.0"/>
<line x1="217.55" y1="1621.71" x2="217.55" y2="1672.02" stroke-width="2.0" />
<line x1="209.05" y1="1621.71" x2="226.05" y2="1621.71" stroke-width="2.0" />
<line x1="209.05" y1="1672.02" x2="226.05" y2="1672.02" stroke-width="2.0" />
<rect x="250.2" y="1673.57" width="32.3" height="170.43" fill="#fff" stroke-width="2.0"/>
<line x1="266.35" y1="1647.78" x2="266.35" y2="1699.35" stroke-width="2.0" />
<line x1="257.85" y1="1647.78" x2="274.85" y2="1647.78" stroke-width="2.0" />
<line x1="257.85" y1="1699.35" x2="274.85" y2="1699.35" stroke-width="2.0" />
<rect x="300" y="1685.2" width="32.3" height="158.8" fill="#fff" stroke-width="2.0"/>
<line x1="316.15" y1="1664.55" x2="316.15" y2="1705.85" stroke-width="2.0" />
<line x1="307.65" y1="1664.55" x2="324.65" y2="1664.55" stroke-width="2.0" />
<line x1="307.65" y1="1705.85" x2="324.65" y2="1705.85" stroke-width="2.0" />
<rect x="349.1" y="1674.4" width="32.3" height="169.6" fill="#fff" stroke-width="2.0"/>
<line x1="365.25" y1="1670.2" x2="365.25" y2="1678.6" stroke-width="2.0" />
<line x1="356.75" y1="1670.2" x2="373.75" y2="1670.2" stroke-width="2.0" />
<line x1="356.75" y1="1678.6" x2="373.75" y2="1678.6" stroke-width="2.0" />
<circle cx="217.7" cy="1619.4" r="7.65" fill="#941100" stroke="#000" stroke-width="2.0"/>
<circle cx="217.7" cy="1650.5" r="7.65" fill="#941100" stroke="#000" stroke-width="2.0"/>
<circle cx="217.7" cy="1669.2" r="7.65" fill="#941100" stroke="#000" stroke-width="2.0"/>
<circle cx="266.2" cy="1643.5" r="7.65" fill="#F9CE78" stroke="#000" stroke-width="2.0"/>
<circle cx="259.3" cy="1690.9" r="7.65" fill="#F9CE78" stroke="#000" stroke-width="2.0"/>
<circle cx="273.4" cy="1684.8" r="7.65" fill="#F9CE78" stroke="#000" stroke-width="2.0"/>
<circle cx="315.6" cy="1664" r="7.65" fill="#167C78" stroke="#000" stroke-width="2.0"/>
<circle cx="315.6" cy="1684.8" r="7.65" fill="#167C78" stroke="#000" stroke-width="2.0"/>
<circle cx="315.6" cy="1705.3" r="7.65" fill="#167C78" stroke="#000" stroke-width="2.0"/>
<circle cx="364.8" cy="1669.8" r="7.65" fill="#34508F" stroke="#000" stroke-width="2.0"/>
<circle cx="356.6" cy="1678.2" r="7.65" fill="#34508F" stroke="#000" stroke-width="2.0"/>
<circle cx="373.2" cy="1673.7" r="7.65" fill="#34508F" stroke="#000" stroke-width="2.0"/>
<line x1="184.5" y1="1416.1" x2="184.5" y2="1844" stroke-width="2.0" />
<line x1="168" y1="1844" x2="184.5" y2="1844" stroke-width="2.0" />
<text x="160" y="1855.6" font-size="33" text-anchor="end" >0</text>
<line x1="168" y1="1737.2" x2="184.5" y2="1737.2" stroke-width="2.0" />
<text x="160" y="1748.8" font-size="33" text-anchor="end" >2</text>
<line x1="168" y1="1630.4" x2="184.5" y2="1630.4" stroke-width="2.0" />
<text x="160" y="1642" font-size="33" text-anchor="end" >4</text>
<line x1="168" y1="1523.6" x2="184.5" y2="1523.6" stroke-width="2.0" />
<text x="160" y="1535.2" font-size="33" text-anchor="end" >6</text>
<line x1="168" y1="1416.8" x2="184.5" y2="1416.8" stroke-width="2.0" />
<text x="160" y="1428.4" font-size="33" text-anchor="end" >8</text>
<line x1="168" y1="1844" x2="398" y2="1844" stroke-width="2.0" />
<line x1="290.9" y1="1844" x2="290.9" y2="1860.5" stroke-width="2.0" />
<text x="290.9" y="1898" font-size="32.7" text-anchor="middle" >PGT121</text>
<text x="291.3" y="1391.8" font-size="40" text-anchor="middle" >V3, neutralizing</text>
<text x="118.2" y="1631.4" font-size="36" text-anchor="middle" textLength="346" lengthAdjust="spacingAndGlyphs" transform="rotate(-90 118.2 1631.4)" >Integrated absorbance</text>
<line x1="227.6" y1="1560.6" x2="364.8" y2="1560.6" stroke-width="2.0" />
<line x1="227.6" y1="1560.6" x2="227.6" y2="1580.8" stroke-width="2.0" />
<line x1="364.8" y1="1560.6" x2="364.8" y2="1580.8" stroke-width="2.0" />
<line x1="273.4" y1="1560.6" x2="273.4" y2="1580.8" stroke-width="2.0" />
<line x1="320.5" y1="1560.6" x2="320.5" y2="1580.8" stroke-width="2.0" />
<text x="301.5" y="1550.7" font-size="33" text-anchor="middle" >ns</text>
<rect x="595" y="1786.4" width="30.8" height="58.5" fill="#fff" stroke-width="2.0"/>
<line x1="610.4" y1="1758.6" x2="610.4" y2="1814.2" stroke-width="2.0" />
<line x1="601.9" y1="1758.6" x2="618.9" y2="1758.6" stroke-width="2.0" />
<line x1="601.9" y1="1814.2" x2="618.9" y2="1814.2" stroke-width="2.0" />
<rect x="643.1" y="1794.13" width="30.8" height="50.77" fill="#fff" stroke-width="2.0"/>
<line x1="658.5" y1="1769.23" x2="658.5" y2="1819.03" stroke-width="2.0" />
<line x1="650" y1="1769.23" x2="667" y2="1769.23" stroke-width="2.0" />
<line x1="650" y1="1819.03" x2="667" y2="1819.03" stroke-width="2.0" />
<rect x="690.5" y="1799" width="30.8" height="45.9" fill="#fff" stroke-width="2.0"/>
<line x1="705.9" y1="1778.08" x2="705.9" y2="1819.92" stroke-width="2.0" />
<line x1="697.4" y1="1778.08" x2="714.4" y2="1778.08" stroke-width="2.0" />
<line x1="697.4" y1="1819.92" x2="714.4" y2="1819.92" stroke-width="2.0" />
<rect x="737.8" y="1793.4" width="30.8" height="51.5" fill="#fff" stroke-width="2.0"/>
<line x1="753.2" y1="1773.58" x2="753.2" y2="1813.22" stroke-width="2.0" />
<line x1="744.7" y1="1773.58" x2="761.7" y2="1773.58" stroke-width="2.0" />
<line x1="744.7" y1="1813.22" x2="761.7" y2="1813.22" stroke-width="2.0" />
<rect x="817.1" y="1792.27" width="30.8" height="52.63" fill="#fff" stroke-width="2.0"/>
<line x1="832.5" y1="1761.95" x2="832.5" y2="1822.58" stroke-width="2.0" />
<line x1="824" y1="1761.95" x2="841" y2="1761.95" stroke-width="2.0" />
<line x1="824" y1="1822.58" x2="841" y2="1822.58" stroke-width="2.0" />
<rect x="864.4" y="1800.23" width="30.8" height="44.67" fill="#fff" stroke-width="2.0"/>
<line x1="879.8" y1="1773.69" x2="879.8" y2="1826.78" stroke-width="2.0" />
<line x1="871.3" y1="1773.69" x2="888.3" y2="1773.69" stroke-width="2.0" />
<line x1="871.3" y1="1826.78" x2="888.3" y2="1826.78" stroke-width="2.0" />
<rect x="911.4" y="1804.5" width="30.8" height="40.4" fill="#fff" stroke-width="2.0"/>
<line x1="926.8" y1="1777.58" x2="926.8" y2="1831.42" stroke-width="2.0" />
<line x1="918.3" y1="1777.58" x2="935.3" y2="1777.58" stroke-width="2.0" />
<line x1="918.3" y1="1831.42" x2="935.3" y2="1831.42" stroke-width="2.0" />
<rect x="959.1" y="1800.93" width="30.8" height="43.97" fill="#fff" stroke-width="2.0"/>
<line x1="974.5" y1="1776.33" x2="974.5" y2="1825.54" stroke-width="2.0" />
<line x1="966" y1="1776.33" x2="983" y2="1776.33" stroke-width="2.0" />
<line x1="966" y1="1825.54" x2="983" y2="1825.54" stroke-width="2.0" />
<circle cx="610.5" cy="1753.9" r="7.65" fill="#941100" stroke="#000" stroke-width="2.0"/>
<circle cx="603.1" cy="1804.1" r="7.65" fill="#941100" stroke="#000" stroke-width="2.0"/>
<circle cx="617.8" cy="1799.7" r="7.65" fill="#941100" stroke="#000" stroke-width="2.0"/>
<circle cx="658.2" cy="1764.9" r="7.65" fill="#F9CE78" stroke="#000" stroke-width="2.0"/>
<circle cx="650.8" cy="1808.9" r="7.65" fill="#F9CE78" stroke="#000" stroke-width="2.0"/>
<circle cx="665.5" cy="1807.1" r="7.65" fill="#F9CE78" stroke="#000" stroke-width="2.0"/>
<circle cx="705.9" cy="1774.8" r="7.65" fill="#167C78" stroke="#000" stroke-width="2.0"/>
<circle cx="698.5" cy="1814.4" r="7.65" fill="#167C78" stroke="#000" stroke-width="2.0"/>
<circle cx="713.2" cy="1806.3" r="7.65" fill="#167C78" stroke="#000" stroke-width="2.0"/>
<circle cx="752.5" cy="1770.4" r="7.65" fill="#34508F" stroke="#000" stroke-width="2.0"/>
<circle cx="745.5" cy="1807.8" r="7.65" fill="#34508F" stroke="#000" stroke-width="2.0"/>
<circle cx="760.2" cy="1800.5" r="7.65" fill="#34508F" stroke="#000" stroke-width="2.0"/>
<circle cx="832.5" cy="1756.8" r="7.65" fill="#941100" stroke="#000" stroke-width="2.0"/>
<circle cx="825.1" cy="1810.7" r="7.65" fill="#941100" stroke="#000" stroke-width="2.0"/>
<circle cx="839.8" cy="1807.8" r="7.65" fill="#941100" stroke="#000" stroke-width="2.0"/>
<circle cx="879.4" cy="1769.3" r="7.65" fill="#F9CE78" stroke="#000" stroke-width="2.0"/>
<circle cx="872.1" cy="1818.1" r="7.65" fill="#F9CE78" stroke="#000" stroke-width="2.0"/>
<circle cx="886.8" cy="1811.8" r="7.65" fill="#F9CE78" stroke="#000" stroke-width="2.0"/>
<circle cx="927.2" cy="1773.3" r="7.65" fill="#167C78" stroke="#000" stroke-width="2.0"/>
<circle cx="919.8" cy="1823.6" r="7.65" fill="#167C78" stroke="#000" stroke-width="2.0"/>
<circle cx="934.5" cy="1815.1" r="7.65" fill="#167C78" stroke="#000" stroke-width="2.0"/>
<circle cx="974.9" cy="1772.2" r="7.65" fill="#34508F" stroke="#000" stroke-width="2.0"/>
<circle cx="967.5" cy="1817.3" r="7.65" fill="#34508F" stroke="#000" stroke-width="2.0"/>
<circle cx="982.2" cy="1811.8" r="7.65" fill="#34508F" stroke="#000" stroke-width="2.0"/>
<line x1="578.9" y1="1418.1" x2="578.9" y2="1844.9" stroke-width="2.0" />
<line x1="562.4" y1="1844.9" x2="578.9" y2="1844.9" stroke-width="2.0" />
<text x="554.4" y="1856.5" font-size="33" text-anchor="end" >0</text>
<line x1="562.4" y1="1738.38" x2="578.9" y2="1738.38" stroke-width="2.0" />
<text x="554.4" y="1749.97" font-size="33" text-anchor="end" >2</text>
<line x1="562.4" y1="1631.85" x2="578.9" y2="1631.85" stroke-width="2.0" />
<text x="554.4" y="1643.45" font-size="33" text-anchor="end" >4</text>
<line x1="562.4" y1="1525.33" x2="578.9" y2="1525.33" stroke-width="2.0" />
<text x="554.4" y="1536.92" font-size="33" text-anchor="end" >6</text>
<line x1="562.4" y1="1418.8" x2="578.9" y2="1418.8" stroke-width="2.0" />
<text x="554.4" y="1430.4" font-size="33" text-anchor="end" >8</text>
<line x1="562.4" y1="1844.9" x2="1006.8" y2="1844.9" stroke-width="2.0" />
<line x1="681.3" y1="1844.9" x2="681.3" y2="1861.4" stroke-width="2.0" />
<text x="681.3" y="1898.9" font-size="32.7" text-anchor="middle" >3074</text>
<line x1="902.9" y1="1844.9" x2="902.9" y2="1861.4" stroke-width="2.0" />
<text x="902.9" y="1898.9" font-size="32.7" text-anchor="middle" >4025</text>
<text x="792.7" y="1393.1" font-size="40" text-anchor="middle" >V3 loop, non-neutralizing</text>
<text x="512.1" y="1631.85" font-size="36" text-anchor="middle" textLength="344" lengthAdjust="spacingAndGlyphs" transform="rotate(-90 512.1 1631.85)" >Integrated absorbance</text>
<line x1="614.1" y1="1640.1" x2="751" y2="1640.1" stroke-width="2.0" />
<line x1="614.1" y1="1640.1" x2="614.1" y2="1660.3" stroke-width="2.0" />
<line x1="751" y1="1640.1" x2="751" y2="1660.3" stroke-width="2.0" />
<line x1="656.3" y1="1640.1" x2="656.3" y2="1660.3" stroke-width="2.0" />
<line x1="704" y1="1640.1" x2="704" y2="1660.3" stroke-width="2.0" />
<text x="684.6" y="1629.1" font-size="33" text-anchor="middle" >ns</text>
<line x1="838" y1="1641.2" x2="974.9" y2="1641.2" stroke-width="2.0" />
<line x1="838" y1="1641.2" x2="838" y2="1661.4" stroke-width="2.0" />
<line x1="974.9" y1="1641.2" x2="974.9" y2="1661.4" stroke-width="2.0" />
<line x1="883.9" y1="1641.2" x2="883.9" y2="1661.4" stroke-width="2.0" />
<line x1="930.8" y1="1641.2" x2="930.8" y2="1661.4" stroke-width="2.0" />
<text x="912.1" y="1629.1" font-size="33" text-anchor="middle" >ns</text>
<circle cx="1100.3" cy="1539.3" r="8.3" fill="#941100" stroke="#000" stroke-width="2.0"/>
<text x="1148.5" y="1550.8" font-size="34.7">MD39_nohis8-pS<tspan font-size="23.5" dy="11.5">4</tspan></text>
<circle cx="1100.3" cy="1599" r="8.3" fill="#F9CE78" stroke="#000" stroke-width="2.0"/>
<text x="1148.5" y="1610.4" font-size="34.7">MD39_nohis8-(pSG)<tspan font-size="23.5" dy="11.5">4</tspan></text>
<circle cx="1100.3" cy="1659.4" r="8.3" fill="#167C78" stroke="#000" stroke-width="2.0"/>
<text x="1148.5" y="1671" font-size="34.7">MD39_nohis8-(pSGG)<tspan font-size="23.5" dy="11.5">4</tspan></text>
<circle cx="1100.3" cy="1727" r="8.3" fill="#34508F" stroke="#000" stroke-width="2.0"/>
<text x="1148.5" y="1739.9" font-size="34.7">MD39_nohis8-(pSGGG)<tspan font-size="23.5" dy="11.5">4</tspan></text>
<text x="0.5" y="1954" font-size="44" font-weight="bold" >c</text>
<rect x="202.7" y="2186.3" width="25.6" height="248.4" fill="#fff" stroke-width="2.0"/>
<line x1="215.5" y1="2184.27" x2="215.5" y2="2188.33" stroke-width="2.0" />
<line x1="208.5" y1="2184.27" x2="222.5" y2="2184.27" stroke-width="2.0" />
<line x1="208.5" y1="2188.33" x2="222.5" y2="2188.33" stroke-width="2.0" />
<rect x="241.4" y="2376.4" width="25.6" height="58.3" fill="#fff" stroke-width="2.0"/>
<line x1="254.2" y1="2370.86" x2="254.2" y2="2381.94" stroke-width="2.0" />
<line x1="247.2" y1="2370.86" x2="261.2" y2="2370.86" stroke-width="2.0" />
<line x1="247.2" y1="2381.94" x2="261.2" y2="2381.94" stroke-width="2.0" />
<rect x="280.1" y="2380.17" width="25.6" height="54.53" fill="#fff" stroke-width="2.0"/>
<line x1="292.9" y1="2371.29" x2="292.9" y2="2389.05" stroke-width="2.0" />
<line x1="285.9" y1="2371.29" x2="299.9" y2="2371.29" stroke-width="2.0" />
<line x1="285.9" y1="2389.05" x2="299.9" y2="2389.05" stroke-width="2.0" />
<rect x="319.1" y="2381.23" width="25.6" height="53.47" fill="#fff" stroke-width="2.0"/>
<line x1="331.9" y1="2370.42" x2="331.9" y2="2392.05" stroke-width="2.0" />
<line x1="324.9" y1="2370.42" x2="338.9" y2="2370.42" stroke-width="2.0" />
<line x1="324.9" y1="2392.05" x2="338.9" y2="2392.05" stroke-width="2.0" />
<rect x="358.3" y="2383.1" width="25.6" height="51.6" fill="#fff" stroke-width="2.0"/>
<line x1="371.1" y1="2371.99" x2="371.1" y2="2394.21" stroke-width="2.0" />
<line x1="364.1" y1="2371.99" x2="378.1" y2="2371.99" stroke-width="2.0" />
<line x1="364.1" y1="2394.21" x2="378.1" y2="2394.21" stroke-width="2.0" />
<rect x="422.7" y="2180.47" width="25.6" height="254.23" fill="#fff" stroke-width="2.0"/>
<line x1="435.5" y1="2146.97" x2="435.5" y2="2213.96" stroke-width="2.0" />
<line x1="428.5" y1="2146.97" x2="442.5" y2="2146.97" stroke-width="2.0" />
<line x1="428.5" y1="2213.96" x2="442.5" y2="2213.96" stroke-width="2.0" />
<rect x="461.7" y="2385.13" width="25.6" height="49.57" fill="#fff" stroke-width="2.0"/>
<line x1="474.5" y1="2382.13" x2="474.5" y2="2388.14" stroke-width="2.0" />
<line x1="467.5" y1="2382.13" x2="481.5" y2="2382.13" stroke-width="2.0" />
<line x1="467.5" y1="2388.14" x2="481.5" y2="2388.14" stroke-width="2.0" />
<rect x="500.7" y="2385.1" width="25.6" height="49.6" fill="#fff" stroke-width="2.0"/>
<line x1="513.5" y1="2377.21" x2="513.5" y2="2392.99" stroke-width="2.0" />
<line x1="506.5" y1="2377.21" x2="520.5" y2="2377.21" stroke-width="2.0" />
<line x1="506.5" y1="2392.99" x2="520.5" y2="2392.99" stroke-width="2.0" />
<rect x="539.7" y="2388.03" width="25.6" height="46.67" fill="#fff" stroke-width="2.0"/>
<line x1="552.5" y1="2381.2" x2="552.5" y2="2394.87" stroke-width="2.0" />
<line x1="545.5" y1="2381.2" x2="559.5" y2="2381.2" stroke-width="2.0" />
<line x1="545.5" y1="2394.87" x2="559.5" y2="2394.87" stroke-width="2.0" />
<rect x="578.1" y="2384.47" width="25.6" height="50.23" fill="#fff" stroke-width="2.0"/>
<line x1="590.9" y1="2377.45" x2="590.9" y2="2391.48" stroke-width="2.0" />
<line x1="583.9" y1="2377.45" x2="597.9" y2="2377.45" stroke-width="2.0" />
<line x1="583.9" y1="2391.48" x2="597.9" y2="2391.48" stroke-width="2.0" />
<circle cx="210.9" cy="2188" r="7.65" fill="#FF2600" stroke="#000" stroke-width="2.0"/>
<circle cx="219.2" cy="2185.4" r="7.65" fill="#FF2600" stroke="#000" stroke-width="2.0"/>
<circle cx="215.1" cy="2184" r="7.65" fill="#FF2600" stroke="#000" stroke-width="2.0"/>
<circle cx="254" cy="2369.5" r="7.65" fill="#941100" stroke="#000" stroke-width="2.0"/>
<circle cx="248.9" cy="2379" r="7.65" fill="#941100" stroke="#000" stroke-width="2.0"/>
<circle cx="258.7" cy="2379.2" r="7.65" fill="#941100" stroke="#000" stroke-width="2.0"/>
<circle cx="292.6" cy="2374" r="7.65" fill="#F9CE78" stroke="#000" stroke-width="2.0"/>
<circle cx="298.9" cy="2375.1" r="7.65" fill="#F9CE78" stroke="#000" stroke-width="2.0"/>
<circle cx="288.5" cy="2389.9" r="7.65" fill="#F9CE78" stroke="#000" stroke-width="2.0"/>
<circle cx="327.5" cy="2368.9" r="7.65" fill="#167C78" stroke="#000" stroke-width="2.0"/>
<circle cx="336.4" cy="2383.2" r="7.65" fill="#167C78" stroke="#000" stroke-width="2.0"/>
<circle cx="327.5" cy="2390.1" r="7.65" fill="#167C78" stroke="#000" stroke-width="2.0"/>
<circle cx="366.8" cy="2371.2" r="7.65" fill="#34508F" stroke="#000" stroke-width="2.0"/>
<circle cx="375.4" cy="2383.2" r="7.65" fill="#34508F" stroke="#000" stroke-width="2.0"/>
<circle cx="367" cy="2393.4" r="7.65" fill="#34508F" stroke="#000" stroke-width="2.0"/>
<circle cx="431" cy="2155.3" r="7.65" fill="#FF2600" stroke="#000" stroke-width="2.0"/>
<circle cx="439.5" cy="2166.5" r="7.65" fill="#FF2600" stroke="#000" stroke-width="2.0"/>
<circle cx="435.4" cy="2218.1" r="7.65" fill="#FF2600" stroke="#000" stroke-width="2.0"/>
<circle cx="474.7" cy="2381.2" r="7.65" fill="#941100" stroke="#000" stroke-width="2.0"/>
<circle cx="478.7" cy="2385.9" r="7.65" fill="#941100" stroke="#000" stroke-width="2.0"/>
<circle cx="470.3" cy="2386.8" r="7.65" fill="#941100" stroke="#000" stroke-width="2.0"/>
<circle cx="513.3" cy="2375.6" r="7.65" fill="#F9CE78" stroke="#000" stroke-width="2.0"/>
<circle cx="507.7" cy="2390.3" r="7.65" fill="#F9CE78" stroke="#000" stroke-width="2.0"/>
<circle cx="517.4" cy="2387.9" r="7.65" fill="#F9CE78" stroke="#000" stroke-width="2.0"/>
<circle cx="551.6" cy="2381.8" r="7.65" fill="#167C78" stroke="#000" stroke-width="2.0"/>
<circle cx="556.4" cy="2385.7" r="7.65" fill="#167C78" stroke="#000" stroke-width="2.0"/>
<circle cx="547.5" cy="2395.1" r="7.65" fill="#167C78" stroke="#000" stroke-width="2.0"/>
<circle cx="590.9" cy="2376.7" r="7.65" fill="#34508F" stroke="#000" stroke-width="2.0"/>
<circle cx="596.2" cy="2384.5" r="7.65" fill="#34508F" stroke="#000" stroke-width="2.0"/>
<circle cx="586.8" cy="2390.7" r="7.65" fill="#34508F" stroke="#000" stroke-width="2.0"/>
<line x1="189.8" y1="2007.1" x2="189.8" y2="2434.7" stroke-width="2.0" />
<line x1="173.3" y1="2434.7" x2="189.8" y2="2434.7" stroke-width="2.0" />
<text x="165.3" y="2446.3" font-size="33" text-anchor="end" >0</text>
<line x1="173.3" y1="2327.97" x2="189.8" y2="2327.97" stroke-width="2.0" />
<text x="165.3" y="2339.57" font-size="33" text-anchor="end" >2</text>
<line x1="173.3" y1="2221.25" x2="189.8" y2="2221.25" stroke-width="2.0" />
<text x="165.3" y="2232.85" font-size="33" text-anchor="end" >4</text>
<line x1="173.3" y1="2114.53" x2="189.8" y2="2114.53" stroke-width="2.0" />
<text x="165.3" y="2126.12" font-size="33" text-anchor="end" >6</text>
<line x1="173.3" y1="2007.8" x2="189.8" y2="2007.8" stroke-width="2.0" />
<text x="165.3" y="2019.4" font-size="33" text-anchor="end" >8</text>
<line x1="173.3" y1="2434.7" x2="617.8" y2="2434.7" stroke-width="2.0" />
<line x1="292.6" y1="2434.7" x2="292.6" y2="2451.2" stroke-width="2.0" />
<text x="292.6" y="2489.2" font-size="32.7" text-anchor="middle" >RM19R</text>
<line x1="512.8" y1="2434.7" x2="512.8" y2="2451.2" stroke-width="2.0" />
<text x="512.8" y="2489.2" font-size="32.7" text-anchor="middle" >12N</text>
<text x="404.2" y="1982.8" font-size="41" text-anchor="middle" >Base</text>
<text x="121.9" y="2221.25" font-size="36" text-anchor="middle" textLength="345.5" lengthAdjust="spacingAndGlyphs" transform="rotate(-90 121.9 2221.25)" >Integrated absorbance</text>
<line x1="223.1" y1="2030.8" x2="376.7" y2="2030.8" stroke-width="2.0" />
<text x="258.8" y="2035.4" font-size="32.5" letter-spacing="3.25" stroke="#000" stroke-width="0.45">****</text>
<line x1="221.6" y1="2057.8" x2="332" y2="2057.8" stroke-width="2.0" />
<text x="248.3" y="2062.4" font-size="32.5" letter-spacing="3.25" stroke="#000" stroke-width="0.45">****</text>
<line x1="222.7" y1="2083.1" x2="291" y2="2083.1" stroke-width="2.0" />
<text x="226" y="2087.7" font-size="32.5" letter-spacing="3.25" stroke="#000" stroke-width="0.45">****</text>
<line x1="222.7" y1="2107.4" x2="261.6" y2="2107.4" stroke-width="2.0" />
<text x="211.6" y="2112" font-size="32.5" letter-spacing="3.25" stroke="#000" stroke-width="0.45">****</text>
<line x1="438.9" y1="2033.3" x2="592.9" y2="2033.3" stroke-width="2.0" />
<text x="474.9" y="2037.9" font-size="32.5" letter-spacing="3.25" stroke="#000" stroke-width="0.45">****</text>
<line x1="438.1" y1="2059.8" x2="548.2" y2="2059.8" stroke-width="2.0" />
<text x="464.8" y="2064.4" font-size="32.5" letter-spacing="3.25" stroke="#000" stroke-width="0.45">****</text>
<line x1="438.9" y1="2085.7" x2="507.3" y2="2085.7" stroke-width="2.0" />
<text x="441.7" y="2090.3" font-size="32.5" letter-spacing="3.25" stroke="#000" stroke-width="0.45">****</text>
<line x1="438.9" y1="2109.7" x2="477.6" y2="2109.7" stroke-width="2.0" />
<text x="427.9" y="2114.3" font-size="32.5" letter-spacing="3.25" stroke="#000" stroke-width="0.45">****</text>
<circle cx="965.4" cy="2070.5" r="8.3" fill="#FF2600" stroke="#000" stroke-width="2.0"/>
<text x="1013.6" y="2081.9" font-size="34.7" >MD39_nohis8</text>
<circle cx="965.4" cy="2130.1" r="8.3" fill="#941100" stroke="#000" stroke-width="2.0"/>
<text x="1013.6" y="2142.2" font-size="34.7">MD39_nohis8-pS<tspan font-size="23.5" dy="11.5">4</tspan></text>
<circle cx="965.4" cy="2190.7" r="8.3" fill="#F9CE78" stroke="#000" stroke-width="2.0"/>
<text x="1013.6" y="2202.2" font-size="34.7">MD39_nohis8-(pSG)<tspan font-size="23.5" dy="11.5">4</tspan></text>
<circle cx="965.4" cy="2250.4" r="8.3" fill="#167C78" stroke="#000" stroke-width="2.0"/>
<text x="1013.6" y="2262.8" font-size="34.7">MD39_nohis8-(pSGG)<tspan font-size="23.5" dy="11.5">4</tspan></text>
<circle cx="965.4" cy="2319.2" r="8.3" fill="#34508F" stroke="#000" stroke-width="2.0"/>
<text x="1013.6" y="2331" font-size="34.7">MD39_nohis8-(pSGGG)<tspan font-size="23.5" dy="11.5">4</tspan></text>
</svg>
</body></html>
